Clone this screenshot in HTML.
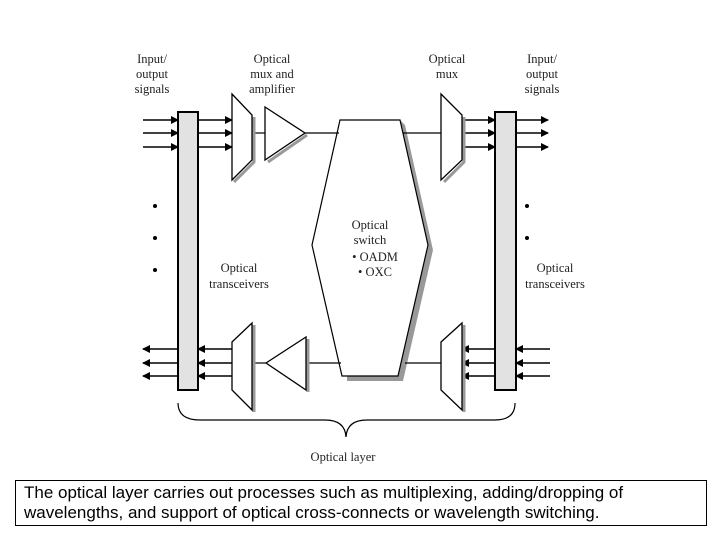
<!DOCTYPE html>
<html><head><meta charset="utf-8"><style>
body{margin:0;background:#fff;width:720px;height:540px;overflow:hidden;position:relative}
svg{position:absolute;left:0;top:0}
.cap{position:absolute;left:15px;top:480px;width:692px;height:46px;border:1px solid #000;box-sizing:border-box;font-family:"Liberation Sans",sans-serif;font-size:17px;line-height:20px;padding:2px 0 0 8px;color:#000;white-space:nowrap}
</style></head><body>
<svg width="720" height="540" viewBox="0 0 720 540">
<defs>
<marker id="ar" markerWidth="8" markerHeight="8" refX="7" refY="4" orient="auto" markerUnits="userSpaceOnUse"><path d="M0,0 L8,4 L0,8 z" fill="#000"/></marker>
</defs>
<path d="M405,125 L433,250 L403,381 L347,381 L347,376 L398,376 L428,245 L400,120 z" fill="#999"/>
<path d="M340,120 L400,120 L428,245 L398,376 L342,376 L312,245 z" fill="#fff" stroke="#000" stroke-width="1.2"/>
<g font-family="Liberation Serif,serif" font-size="12.5" fill="#222" text-anchor="middle">
<text x="152" y="63">Input/</text><text x="152" y="78">output</text><text x="152" y="93">signals</text>
<text x="272" y="63">Optical</text><text x="272" y="78">mux and</text><text x="272" y="93">amplifier</text>
<text x="447" y="63">Optical</text><text x="447" y="78">mux</text>
<text x="542" y="63">Input/</text><text x="542" y="78">output</text><text x="542" y="93">signals</text>
<text x="370" y="229">Optical</text><text x="370" y="244">switch</text>
<text x="375" y="261">• OADM</text><text x="375" y="276">• OXC</text>
<text x="239" y="272">Optical</text><text x="239" y="288">transceivers</text>
<text x="555" y="272">Optical</text><text x="555" y="288">transceivers</text>
<text x="343" y="461">Optical layer</text>
</g>
<rect x="178" y="112" width="20" height="278" fill="#e2e2e2" stroke="#000" stroke-width="2"/>
<rect x="495" y="112" width="21" height="278" fill="#e2e2e2" stroke="#000" stroke-width="2"/>
<g stroke="#000" stroke-width="1.6" fill="none">
<line x1="143" y1="120" x2="178" y2="120" marker-end="url(#ar)"/>
<line x1="143" y1="133" x2="178" y2="133" marker-end="url(#ar)"/>
<line x1="143" y1="147" x2="178" y2="147" marker-end="url(#ar)"/>
<line x1="198" y1="120" x2="232" y2="120" marker-end="url(#ar)"/>
<line x1="198" y1="133" x2="232" y2="133" marker-end="url(#ar)"/>
<line x1="198" y1="147" x2="232" y2="147" marker-end="url(#ar)"/>
<line x1="462" y1="120" x2="495" y2="120" marker-end="url(#ar)"/>
<line x1="462" y1="133" x2="495" y2="133" marker-end="url(#ar)"/>
<line x1="462" y1="147" x2="495" y2="147" marker-end="url(#ar)"/>
<line x1="516" y1="120" x2="548" y2="120" marker-end="url(#ar)"/>
<line x1="516" y1="133" x2="548" y2="133" marker-end="url(#ar)"/>
<line x1="516" y1="147" x2="548" y2="147" marker-end="url(#ar)"/>
<line x1="232" y1="349" x2="198" y2="349" marker-end="url(#ar)"/>
<line x1="232" y1="363" x2="198" y2="363" marker-end="url(#ar)"/>
<line x1="232" y1="376" x2="198" y2="376" marker-end="url(#ar)"/>
<line x1="178" y1="349" x2="143" y2="349" marker-end="url(#ar)"/>
<line x1="178" y1="363" x2="143" y2="363" marker-end="url(#ar)"/>
<line x1="178" y1="376" x2="143" y2="376" marker-end="url(#ar)"/>
<line x1="495" y1="349" x2="462" y2="349" marker-end="url(#ar)"/>
<line x1="495" y1="363" x2="462" y2="363" marker-end="url(#ar)"/>
<line x1="495" y1="376" x2="462" y2="376" marker-end="url(#ar)"/>
<line x1="550" y1="349" x2="516" y2="349" marker-end="url(#ar)"/>
<line x1="550" y1="363" x2="516" y2="363" marker-end="url(#ar)"/>
<line x1="550" y1="376" x2="516" y2="376" marker-end="url(#ar)"/>
</g>
<g stroke="#000" stroke-width="1.2" fill="none">
<line x1="252" y1="133" x2="265" y2="133"/>
<line x1="305" y1="133" x2="339" y2="133"/>
<line x1="403" y1="133" x2="441" y2="133"/>
<line x1="252" y1="363" x2="266" y2="363"/>
<line x1="306" y1="363" x2="341" y2="363"/>
<line x1="405" y1="363" x2="441" y2="363"/>
</g>
<g stroke="#999" stroke-width="3" fill="none">
<path d="M254,117 L254,162 L234,182"/>
<path d="M307,135 L268,162"/>
<path d="M464,117 L464,162 L444,182"/>
<path d="M254,325 L254,412"/>
<path d="M308,339 L308,392"/>
<path d="M464,325 L464,412"/>
</g>
<g stroke="#000" stroke-width="1.3" fill="#fff">
<path d="M232,94 L252,115 L252,160 L232,180 z"/>
<path d="M265,107 L305,133 L265,160 z"/>
<path d="M441,94 L462,115 L462,160 L441,180 z"/>
<path d="M232,342 L252,323 L252,410 L232,390 z"/>
<path d="M306,337 L266,363 L306,390 z"/>
<path d="M441,342 L462,323 L462,410 L441,390 z"/>
</g>
<g fill="#000">
<circle cx="155" cy="206" r="2"/><circle cx="155" cy="238" r="2"/><circle cx="155" cy="270" r="2"/>
<circle cx="527" cy="206" r="2"/><circle cx="527" cy="238" r="2"/>
</g>
<path d="M178,403 Q178,420 200,420 L325,420 Q345,420 346,437 Q347,420 367,420 L495,420 Q515,420 515,403" fill="none" stroke="#000" stroke-width="1.2"/>
</svg>
<div class="cap">The optical layer carries out processes such as multiplexing, adding/dropping of<br>wavelengths, and support of optical cross-connects or wavelength switching.</div>
</body></html>
